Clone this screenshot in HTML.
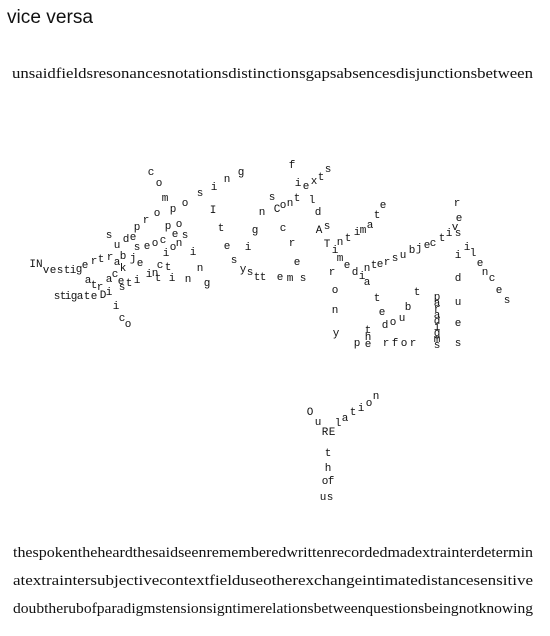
<!DOCTYPE html>
<html><head><meta charset="utf-8"><style>
html,body{margin:0;padding:0;background:#fff;}
svg{display:block}
.s{font-family:"Liberation Mono",monospace;font-size:11px;fill:#111;}
.serif{font-family:"Liberation Serif",serif;font-size:15px;fill:#111;}
</style></head><body>
<svg width="550" height="636" viewBox="0 0 550 636">
<text x="7" y="23" font-family="Liberation Sans,sans-serif" font-size="19" fill="#111" textLength="86" lengthAdjust="spacingAndGlyphs">vice versa</text>
<text class="serif" x="12" y="78" textLength="521" lengthAdjust="spacingAndGlyphs">unsaidfieldsresonancesnotationsdistinctionsgapsabsencesdisjunctionsbetween</text>
<g id="scatter"></g>
<text class="serif" x="13" y="557" textLength="520" lengthAdjust="spacingAndGlyphs">thespokentheheardthesaidseenrememberedwrittenrecordedmadextrainterdetermin</text>
<text class="serif" x="13" y="585" textLength="520" lengthAdjust="spacingAndGlyphs">atextraintersubjectivecontextfielduseotherexchangeintimatedistancesensitive</text>
<text class="serif" x="13" y="613" textLength="520" lengthAdjust="spacingAndGlyphs">doubtherubofparadigmstensionsigntimerelationsbetweenquestionsbeingnotknowing</text>
</svg>
<script>
const letters = [
"c","o","m",
"p","r","o","p","o","s","i","n","g",
"IN",
"v","e","s","t","i","g","e",
"r","t","r","u","d","e","s",
"b","j","e",
"i","n","c","t",
"s","e","o","c","e","s",
"p","o",
"i","o","n",
"i","n","g",
"t","i","n",
"a","k","c","a","e",
"a","t","r","s","t","i",
"s","t","i","g","a","t","e","D","i",
"i","c","o",
"I","t","e","s","y","s","t",
"n","g","i",
"t","e","m","s",
"c","r","e",
"f","i",
"s","C","o","n","t","e","x","t","s",
"l","d","s","A",
"t","i","m","a","t","e",
"T","n",
"i","m","e","d","i","a","t","e",
"n","t","e","r","s","u","b","j","e","c","t","i","v","e",
"r",
"s","i","l","e","n","c","e","s",
"i","d","u","e","s",
"r","o","n","y",
"d","o","u","b","t",
"p","r","f","o","r",
"t","h","e",
"O","u","R","E","l","a","t","i","o","n",
"t","h","o","f","u","s"
];
const xs = [
151,159,165,
137,146,157,173,185,200,214,227,241,
36,
46,53,60,67,73,79,85,
94,101,110,117,126,133,109,
123,133,140,
149,155,160,168,
137,147,155,163,175,185,
168,179,
166,173,179,
193,200,207,
158,172,188,
117,123,115,109,121,
88,94,100,122,129,137,
57,63,68,74,80,87,94,103,109,
116,122,128,
213,221,227,234,243,250,257,
262,255,248,
263,280,290,303,
283,292,297,
292,298,
272,277,283,290,297,306,314,321,328,
312,318,327,319,
348,357,363,370,377,383,
327,340,
335,340,347,355,362,367,377,382,
367,374,380,387,395,403,412,419,427,433,442,449,455,459,
457,
458,467,473,480,485,492,499,507,
458,458,458,458,458,
332,335,335,336,
385,393,402,408,417,
357,386,395,404,413,
368,368,368,
310,318,325,332,338,345,353,361,369,376,
328,328,325,331,323,330
];
const ys = [
172,183,198,
227,220,213,209,203,193,187,179,172,
264,
270,270,270,270,270,269,265,
261,259,257,245,239,237,235,
256,258,263,
274,273,265,267,
247,246,243,240,234,235,
226,224,
253,247,243,
252,268,283,
278,278,279,
262,268,274,279,281,
280,285,287,287,283,280,
296,296,296,296,296,296,296,295,292,
306,318,324,
210,228,246,260,269,272,277,
212,230,247,
277,277,278,278,
228,243,262,
165,183,
197,209,205,203,198,186,181,177,169,
200,212,226,230,
238,232,230,225,215,205,
244,242,
250,258,265,272,276,282,298,312,
268,265,264,262,258,255,250,248,245,243,238,233,227,218,
203,
233,247,253,263,272,278,290,300,
255,278,302,323,343,
272,290,310,333,
325,322,318,307,292,
343,343,343,343,343,
330,337,344,
412,422,432,432,423,418,412,408,403,396,
453,468,481,481,497,497
];
const g=document.getElementById('scatter');
const n=Math.min(letters.length,xs.length,ys.length);
for(let i=0;i<n;i++){
 const t=document.createElementNS('http://www.w3.org/2000/svg','text');
 t.setAttribute('class','s');
 t.setAttribute('x',xs[i]);t.setAttribute('y',ys[i]+3);
 t.setAttribute('text-anchor','middle');
 t.textContent=letters[i];
 
 
 g.appendChild(t);
}
const para="paradigms";
for(let i=0;i<para.length;i++){
 const t=document.createElementNS('http://www.w3.org/2000/svg','text');
 t.setAttribute('class','s');
 t.setAttribute('font-size','7');
 t.setAttribute('x',437);t.setAttribute('y',300+i*6);
 t.setAttribute('text-anchor','middle');
 t.textContent=para[i];
 
 
 g.appendChild(t);
}
</script>
</body></html>
